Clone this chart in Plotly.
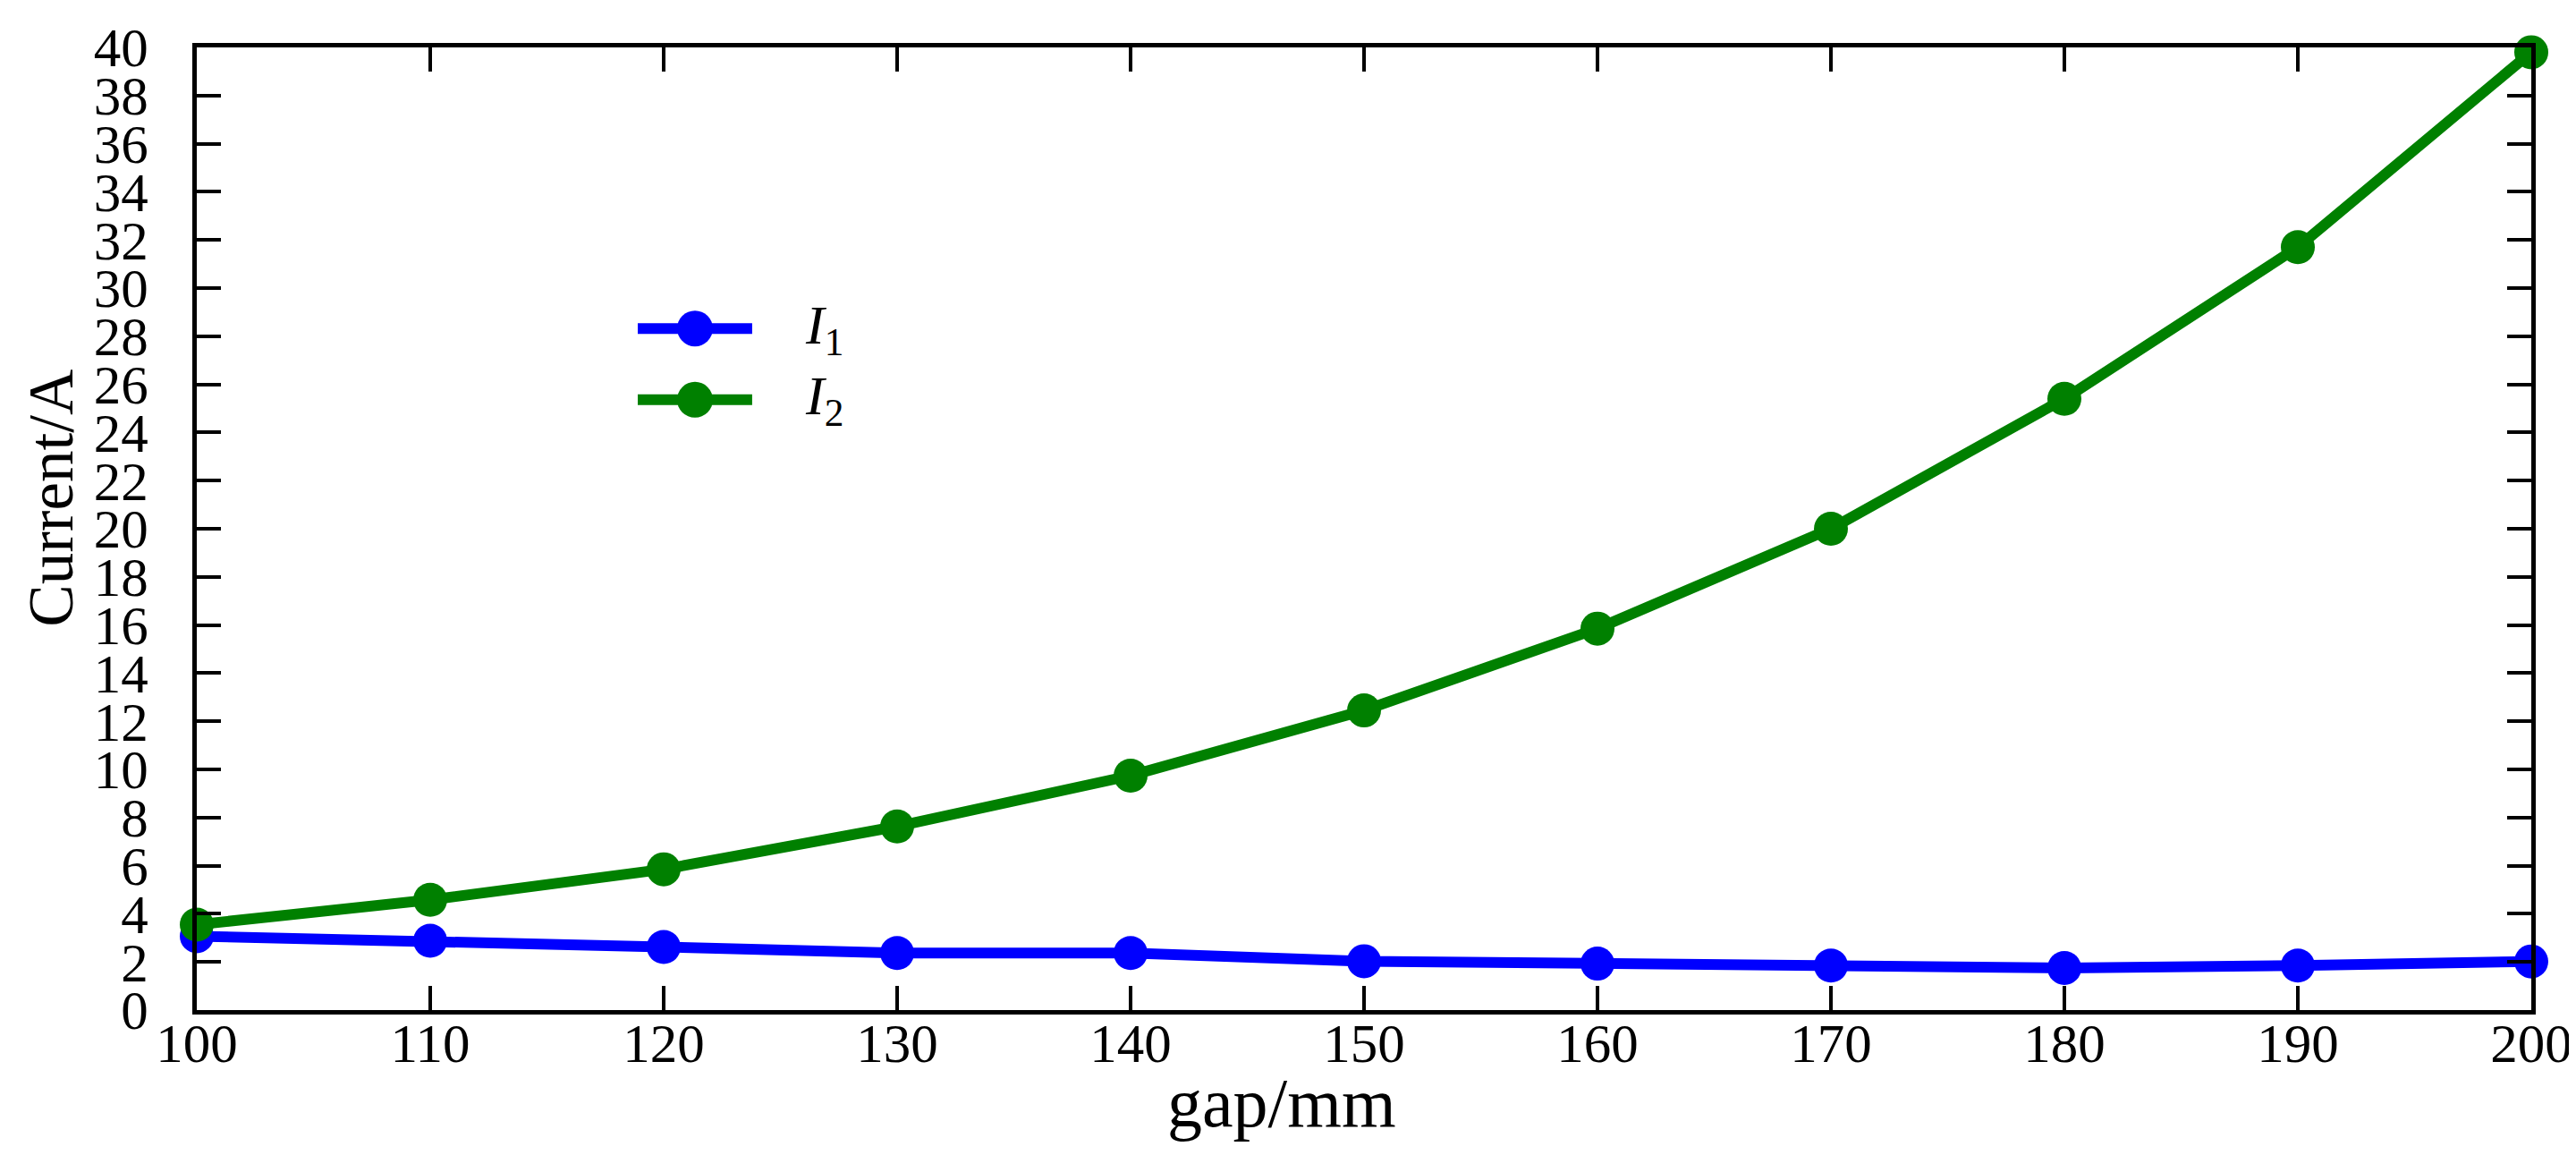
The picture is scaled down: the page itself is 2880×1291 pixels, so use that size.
import plotly.graph_objects as go

# values
gap_mm = [100, 110, 120, 130, 140, 150, 160, 170, 180, 190, 200]
current_i1 = [3.07, 2.88, 2.62, 2.37, 2.37, 2.03, 1.93, 1.85, 1.75, 1.85, 2.02]
current_i2 = [3.55, 4.58, 5.85, 7.63, 9.74, 12.45, 15.85, 20.0, 25.4, 31.7, 39.8]
series_names = ["<i>I</i><sub>1</sub>", "<i>I</i><sub>2</sub>"]
y_ticks = list(range(0, 41, 2))
x_ticks = list(range(100, 201, 10))

FONT = "Liberation Serif"
BLUE = "#0000FF"
GREEN = "#008000"

fig = go.Figure()

for ys, color, name in [(current_i1, BLUE, series_names[0]),
                        (current_i2, GREEN, series_names[1])]:
    fig.add_trace(go.Scatter(
        x=gap_mm, y=ys, name=name, mode="lines+markers",
        line=dict(color=color, width=12),
        marker=dict(color=color, size=38),
        cliponaxis=False, showlegend=False,
    ))

axis_common = dict(
    showline=True, linewidth=5, linecolor="black", mirror="ticks",
    ticks="inside", ticklen=27, tickwidth=4, tickcolor="black",
    showgrid=False, zeroline=False,
    tickfont=dict(family=FONT, size=61, color="black"),
)

fig.update_layout(
    width=2880, height=1291,
    margin=dict(l=212, r=58, t=42, b=170),
    paper_bgcolor="white", plot_bgcolor="white",
    font=dict(family=FONT, color="black"),
    xaxis=dict(range=[100, 200], tickmode="array", tickvals=x_ticks,
               ticklabelstandoff=-20, **axis_common),
    yaxis=dict(range=[0, 40], tickmode="array", tickvals=y_ticks,
               ticklabelstandoff=37, **axis_common),
)

# axis titles
fig.add_annotation(text="Current/A", xref="paper", yref="paper",
                   x=-0.0628, y=0.532, textangle=-90, showarrow=False,
                   xanchor="center", yanchor="middle",
                   font=dict(family=FONT, size=71, color="black"))
fig.add_annotation(text="gap/mm", xref="paper", yref="paper",
                   x=0.4648, y=-0.0964, showarrow=False,
                   xanchor="center", yanchor="middle",
                   font=dict(family=FONT, size=78, color="black"))

# hand-drawn legend (long line samples with large markers)
leg_x0, leg_x1, leg_xc, leg_text_x = 0.1889, 0.2379, 0.2134, 0.2598
leg_rows = [0.708, 0.634]
for yy, color, name in zip(leg_rows, [BLUE, GREEN], series_names):
    fig.add_shape(type="line", xref="paper", yref="paper",
                  x0=leg_x0, x1=leg_x1, y0=yy, y1=yy,
                  line=dict(color=color, width=12))
    fig.add_shape(type="circle", xref="paper", yref="paper",
                  xsizemode="pixel", ysizemode="pixel",
                  xanchor=leg_xc, yanchor=yy,
                  x0=-20, x1=20, y0=-20, y1=20,
                  fillcolor=color, line=dict(color=color, width=0))
    fig.add_annotation(text=name, xref="paper", yref="paper",
                       x=leg_text_x, y=yy, showarrow=False,
                       xanchor="left", yanchor="middle",
                       font=dict(family=FONT, size=62, color="black"))

fig.write_html("out.html")
